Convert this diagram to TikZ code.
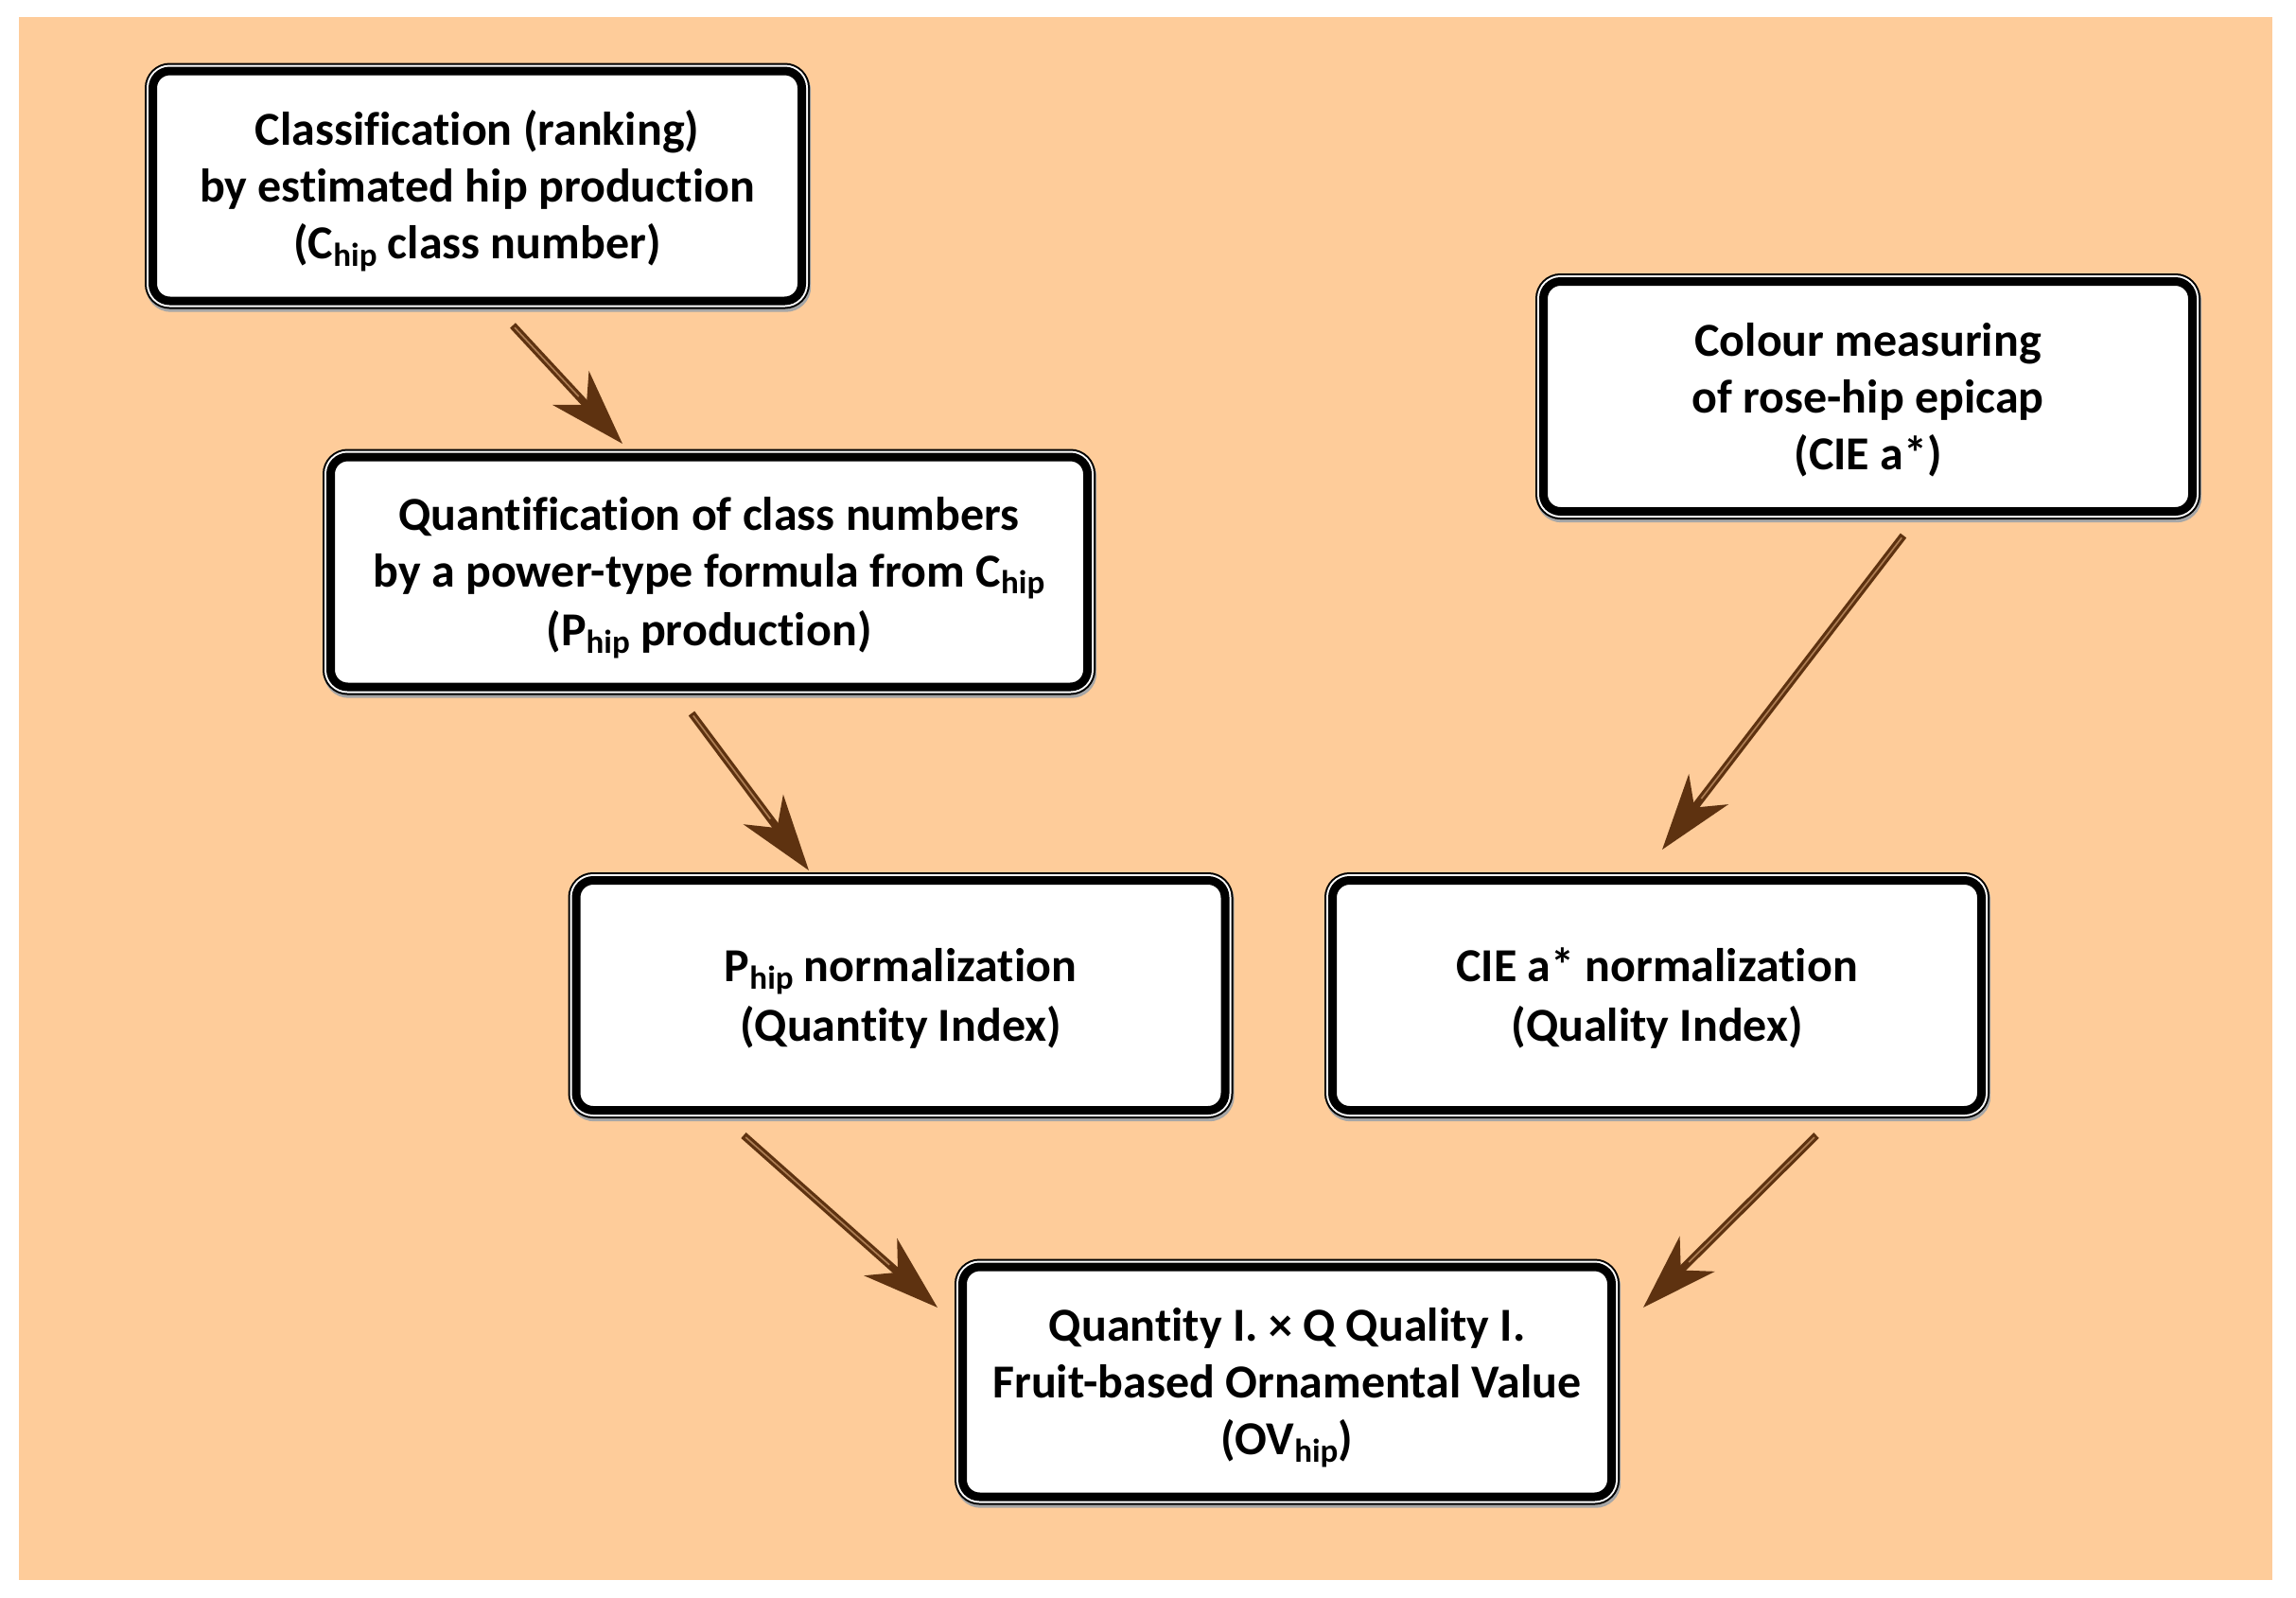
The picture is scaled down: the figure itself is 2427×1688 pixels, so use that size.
\documentclass[tikz,border=0pt]{standalone}
\usepackage{fontspec}
\setmainfont{Carlito}[Ligatures=NoCommon]
\usetikzlibrary{arrows.meta}
\definecolor{peach}{HTML}{FECC9A}
\definecolor{arrowbrown}{HTML}{5E3210}
% lowered index such as the "hip" of C_hip
\newcommand\lowidx[1]{\raisebox{-3.8pt}{\fontsize{17.5}{17.5}\selectfont #1}}
% full line box of the 25pt face, so every box centres its lines alike
\newcommand\cardstrut{\rule[-6.7pt]{0pt}{30.5pt}}
\begin{document}
\begin{tikzpicture}[x=0.5pt,y=-0.5pt,
  card/.style={rectangle, rounded corners=9pt, fill=white, draw=black, line width=4.5pt,
    preaction={draw=black!35, line width=8.5pt, transform canvas={xshift=0.6pt, yshift=-1.6pt}},
    preaction={draw=black, line width=8.5pt},
    preaction={draw=white, line width=6.5pt},
    minimum width=343pt, minimum height=121.5pt, align=center, inner sep=0pt,
    font=\fontsize{25}{30}\selectfont\bfseries},
  flow/.style={draw=arrowbrown, line width=4pt,
    -{Stealth[length=40pt,width=26pt,inset=12pt]}},
  flowcore/.style={draw=arrowbrown!50!peach, line width=0.8pt, shorten >=34pt, shorten <=1.5pt},
]
% canvas and peach panel
\path[fill=white] (0,0) rectangle (2427,1688);
\useasboundingbox (0,0) rectangle (2427,1688);
\fill[peach] (20,18) rectangle (2402,1670);

% process boxes
\node[card] (classify) at (504.5,196.5)
  {\cardstrut Classification (ranking)\\ by estimated hip production\\ (C\lowidx{hip} class number)\cardstrut};
\node[card, minimum width=400pt] (quantify) at (749.5,604.5)
  {\cardstrut Quantification of class numbers\\ by a power-type formula from C\lowidx{hip}\\ (P\lowidx{hip} production)\cardstrut};
\node[card] (colour) at (1974.5,419)
  {\cardstrut Colour measuring\\ of rose-hip epicap\\ (CIE a*)\cardstrut};
\node[card] (qtyidx) at (952,1052)
  {\cardstrut P\lowidx{hip} normalization\\ (Quantity Index)\cardstrut};
\node[card] (qlyidx) at (1751.5,1052)
  {\cardstrut CIE a* normalization\\ (Quality Index)\cardstrut};
\node[card] (ovalue) at (1360.5,1460.5)
  {\cardstrut Quantity I. × Q Quality I.\\ Fruit-based Ornamental Value\\ (OV\lowidx{hip})\cardstrut};

% arrow end points in the gaps between boxes
\coordinate (a1s) at (542,344);  \coordinate (a1e) at (658,469);
\coordinate (a2s) at (731,754);  \coordinate (a2e) at (855,920);
\coordinate (a3s) at (2012,566); \coordinate (a3e) at (1757,898);
\coordinate (a4s) at (786,1200); \coordinate (a4e) at (991,1382);
\coordinate (a5s) at (1920,1200);\coordinate (a5e) at (1737,1382);

\foreach \s/\e in {a1s/a1e,a2s/a2e,a3s/a3e,a4s/a4e,a5s/a5e}{
  \draw[flow] (\s) -- (\e);
  \draw[flowcore] (\s) -- (\e);
}
\end{tikzpicture}
\end{document}
